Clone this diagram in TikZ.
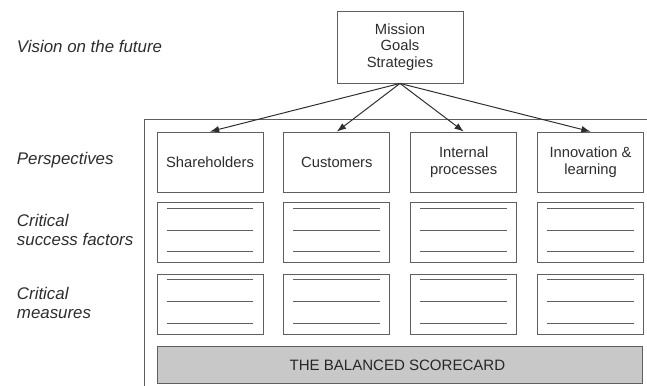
\documentclass[tikz,border=0pt]{standalone}
\usepackage{fontspec}
\setmainfont{Liberation Sans}
\usepackage{xcolor}
\definecolor{ink}{RGB}{45, 45, 45}
\definecolor{rule}{RGB}{95, 95, 95}
\definecolor{barfill}{RGB}{200, 200, 200}
\usepackage{tikz}
\usetikzlibrary{
    arrows.meta,
    positioning,
    calc
}

\begin{document}
\begin{tikzpicture}[
    >={Latex[length=2.3mm,width=1.7mm]},
    every text node part/.style={align=center},
    box/.style={draw=rule, line width=0.6pt, fill=white, inner sep=3pt, text=ink,
        font=\fontsize{10.5}{11.8}\selectfont},
    pbox/.style={box, minimum width=2.65cm, minimum height=1.5cm},
    rowlabel/.style={anchor=west, text=ink,
        every text node part/.style={align=left},
        font=\fontsize{12}{14}\selectfont\itshape},
    entry/.style={draw=rule, line width=0.6pt},
    frame/.style={draw=rule, line width=0.6pt},
    link/.style={draw=ink, line width=0.7pt, ->}
]
\useasboundingbox (0,0) rectangle (16.175,-9.65);

% ==================== ROW LABELS ====================
\node[rowlabel] (lvision) at (0.3,-1.15) {Vision on the future};
\node[rowlabel] (lpersp) at (0.3,-4.0) {Perspectives};
\node[rowlabel] (lcsf) at (0.3,-5.75) {Critical\\success factors};
\node[rowlabel] (lmeas) at (0.3,-7.575) {Critical\\measures};

% ==================== MISSION ====================
\node[box, minimum width=3.15cm, minimum height=1.8cm] (mission) at (10,-1.175) {
    Mission\\Goals\\Strategies
};

% ==================== SCORECARD FRAME ====================
\draw[frame] (3.6,-9.65) |- (16.175,-2.975);

% ==================== PERSPECTIVES ====================
\node[pbox] (share) at (5.25,-4.05) {Shareholders};
\node[pbox, right=0.5cm of share] (cust) {Customers};
\node[pbox, right=0.5cm of cust] (intern) {Internal\\processes};
\node[pbox, right=0.5cm of intern] (innov) {Innovation \&\\learning};

\foreach \p in {share, cust, intern, innov}
    \draw[link] (mission.south) -- (\p.north);

% ==================== FACTORS & MEASURES ====================
\foreach \p [count=\i] in {share, cust, intern, innov} {
    \node[pbox, below=0.25cm of \p] (csf\i) {};
    \node[pbox, below=0.275cm of csf\i] (meas\i) {};
}

\foreach \b in {csf1, csf2, csf3, csf4, meas1, meas2, meas3, meas4}
    \foreach \f in {0.14, 0.69, 1.23}
        \draw[entry] ($(\b.north west)+(0.25,-\f)$) -- ($(\b.north east)+(-0.25,-\f)$);

% ==================== BALANCED SCORECARD ====================
\node[box, fill=barfill, minimum width=12.125cm, minimum height=0.925cm,
    font=\fontsize{10.7}{12}\selectfont, text=black!85,
    below=0.275cm of meas1.south west, anchor=north west] (scorecard) {
    THE BALANCED SCORECARD
};

\end{tikzpicture}
\end{document}
